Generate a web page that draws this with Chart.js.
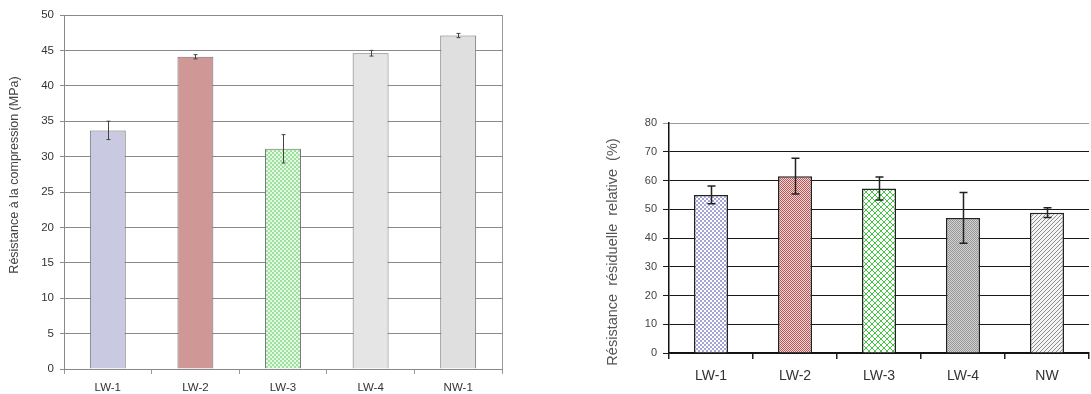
<!DOCTYPE html>
<html lang="fr">
<head>
    <meta charset="UTF-8">
    <title>Résistance à la compression</title>
    <script src="https://cdn.jsdelivr.net/npm/chart.js"></script>
    <style>
        body { margin: 0; background: #fff; width: 1091px; height: 394px; overflow: hidden; position: relative; }
        canvas { position: absolute; top: 0; }
        #leftChart { left: 0; }
        #rightChart { left: 560px; }
    </style>
</head>
<body>

    <canvas id="leftChart" width="540" height="394"></canvas>
    <canvas id="rightChart" width="531" height="394"></canvas>

    <script>
        // ** Data **
        let labels1 = ["LW-1", "LW-2", "LW-3", "LW-4", "NW-1"];
        let strength = [33.7, 44.1, 31.1, 44.6, 47.1];       // MPa
        let strengthErr = [1.3, 0.3, 2.0, 0.4, 0.3];
        let yTicks1 = [0, 5, 10, 15, 20, 25, 30, 35, 40, 45, 50];

        let labels2 = ["LW-1", "LW-2", "LW-3", "LW-4", "NW"];
        let residual = [55, 61.5, 57.2, 47, 48.8];           // %
        let residualErr = [3.1, 6.2, 4.0, 8.8, 1.7];
        let yTicks2 = [0, 10, 20, 30, 40, 50, 60, 70, 80];

        const FONT = "'Liberation Sans', Arial, sans-serif";

        // small pattern tiles for the hatched bars
        function pattern(size, draw) {
            let c = document.createElement("canvas");
            c.width = size; c.height = size;
            let g = c.getContext("2d");
            draw(g);
            return g.createPattern(c, "repeat");
        }
        function checker(a, b, cell) {
            return pattern(cell * 2, g => {
                g.fillStyle = b; g.fillRect(0, 0, cell * 2, cell * 2);
                g.fillStyle = a;
                g.fillRect(0, 0, cell, cell);
                g.fillRect(cell, cell, cell, cell);
            });
        }
        function crossHatch(col, bg, size) {
            return pattern(size, g => {
                g.fillStyle = bg; g.fillRect(0, 0, size, size);
                g.fillStyle = col;
                for (let i = 0; i < size; i++) {
                    g.fillRect(i, i, 1, 1);
                    g.fillRect(i, size - 1 - i, 1, 1);
                }
            });
        }
        function diagonal(col, bg, size) {
            return pattern(size, g => {
                g.fillStyle = bg; g.fillRect(0, 0, size, size);
                g.fillStyle = col;
                for (let i = 0; i < size; i++) g.fillRect(i, size - 1 - i, 1, 1);
            });
        }

        // error bars + rotated axis title + right frame line
        const extras = {
            id: "extras",
            afterDatasetsDraw(chart, args, o) {
                let ctx = chart.ctx;
                let meta = chart.getDatasetMeta(0);
                let y = chart.scales.y;
                let vals = chart.data.datasets[0].data;
                ctx.save();
                ctx.strokeStyle = o.errColor;
                ctx.lineWidth = o.errWidth;
                o.errors.forEach((e, i) => {
                    let x = Math.round(meta.data[i].x) + 0.5;
                    let top = y.getPixelForValue(vals[i] + e);
                    let bot = y.getPixelForValue(vals[i] - e);
                    ctx.beginPath();
                    ctx.moveTo(x, top); ctx.lineTo(x, bot);
                    ctx.moveTo(x - o.cap, top); ctx.lineTo(x + o.cap, top);
                    ctx.moveTo(x - o.cap, bot); ctx.lineTo(x + o.cap, bot);
                    ctx.stroke();
                });
                if (o.frame) {
                    let a = chart.chartArea;
                    ctx.strokeStyle = o.frame;
                    ctx.lineWidth = 1;
                    ctx.beginPath();
                    ctx.moveTo(a.right + 0.5, a.top);
                    ctx.lineTo(a.right + 0.5, a.bottom);
                    ctx.stroke();
                }
                ctx.translate(o.titleX, o.titleY);
                ctx.rotate(-Math.PI / 2);
                ctx.fillStyle = o.titleColor;
                ctx.font = o.titleFont;
                ctx.textAlign = "center";
                ctx.textBaseline = "middle";
                ctx.fillText(o.title, 0, 0);
                ctx.restore();
            }
        };

        // ** Left chart: compression strength **
        let leftCtx = document.getElementById("leftChart").getContext("2d");
        let fills1 = ["#c9c9e2", "#d09797", checker("#9ee09e", "#e4f7e4", 2), "#e5e5e5", "#dfdfdf"];
        new Chart(leftCtx, {
            type: "bar",
            data: {
                labels: labels1,
                datasets: [{
                    data: strength,
                    backgroundColor: fills1,
                    borderColor: "#707070",
                    borderWidth: 1,
                    barPercentage: 0.41,
                    categoryPercentage: 1
                }]
            },
            plugins: [extras],
            options: {
                responsive: false,
                animation: false,
                devicePixelRatio: 1,
                layout: { padding: { top: 15, right: 38, left: 0, bottom: 0 } },
                plugins: {
                    legend: { display: false },
                    tooltip: { enabled: false },
                    extras: {
                        errors: strengthErr, errColor: "#444", errWidth: 1, cap: 2,
                        frame: "#999",
                        title: "Résistance à la compression (MPa)",
                        titleX: 15, titleY: 175,
                        titleFont: "12.5px " + FONT, titleColor: "#444"
                    }
                },
                scales: {
                    x: {
                        grid: { drawOnChartArea: false, tickLength: 5, color: "#999" },
                        border: { color: "#888" },
                        ticks: { color: "#333", font: { family: FONT, size: 11.5 }, padding: 7 },
                        afterFit(s) { s.height = 25; }
                    },
                    y: {
                        min: 0, max: 50,
                        afterBuildTicks(s) { s.ticks = yTicks1.map(v => ({ value: v })); },
                        grid: { color: "#8a8a8a", tickLength: 4 },
                        border: { color: "#888" },
                        ticks: { color: "#333", font: { family: FONT, size: 11.5 }, padding: 6 },
                        afterFit(s) { s.width = 64; }
                    }
                }
            }
        });

        // ** Right chart: relative residual strength **
        let rightCtx = document.getElementById("rightChart").getContext("2d");
        let fills2 = [
            checker("#a4a4d6", "#ffffff", 2),
            checker("#b85a5a", "#f2d6d6", 1),
            crossHatch("#46c446", "#ffffff", 6),
            checker("#979797", "#d2d2d2", 1),
            diagonal("#8e8e8e", "#f4f4f4", 4)
        ];
        new Chart(rightCtx, {
            type: "bar",
            data: {
                labels: labels2,
                datasets: [{
                    data: residual,
                    backgroundColor: fills2,
                    borderColor: "#222",
                    borderWidth: 1.5,
                    barPercentage: 0.405,
                    categoryPercentage: 1
                }]
            },
            plugins: [extras],
            options: {
                responsive: false,
                animation: false,
                devicePixelRatio: 1,
                layout: { padding: { top: 123, right: 2, left: 0, bottom: 0 } },
                plugins: {
                    legend: { display: false },
                    tooltip: { enabled: false },
                    extras: {
                        errors: residualErr, errColor: "#222", errWidth: 1.5, cap: 4,
                        frame: null,
                        title: "Résistance  résiduelle  relative  (%)",
                        titleX: 53, titleY: 252,
                        titleFont: "14.5px " + FONT, titleColor: "#555"
                    }
                },
                scales: {
                    x: {
                        grid: { drawOnChartArea: false, tickLength: 6, color: "#222", lineWidth: 1.5 },
                        border: { color: "#111", width: 1.5 },
                        ticks: { color: "#333", font: { family: FONT, size: 14 }, padding: 9 },
                        afterFit(s) { s.height = 41; }
                    },
                    y: {
                        min: 0, max: 80,
                        afterBuildTicks(s) { s.ticks = yTicks2.map(v => ({ value: v })); },
                        grid: {
                            color: c => (c.tick && c.tick.value === 80) ? "#999" : "#1a1a1a",
                            tickLength: 6
                        },
                        border: { color: "#111", width: 1.5 },
                        ticks: { color: "#444", font: { family: FONT, size: 11 }, padding: 6 },
                        afterFit(s) { s.width = 109; }
                    }
                }
            }
        });
    </script>

</body>
</html>
